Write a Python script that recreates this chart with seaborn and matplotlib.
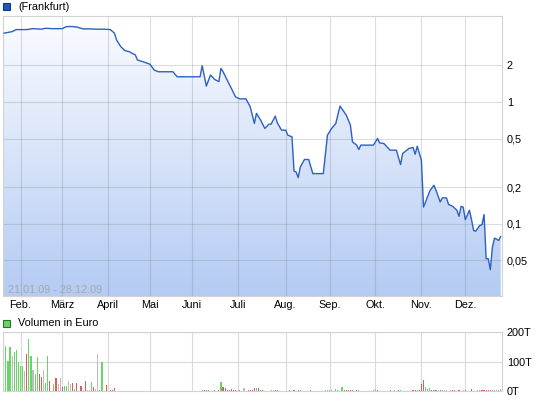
import numpy as np
import pandas as pd
import matplotlib
matplotlib.use("Agg")
import matplotlib.pyplot as plt
import seaborn as sns
from matplotlib.colors import LinearSegmentedColormap
from matplotlib.patches import Rectangle
from matplotlib.ticker import NullLocator

# ---------------- data ----------------
price_dates = [
    "2009-01-21", "2009-01-27", "2009-01-29", "2009-02-05", "2009-02-10", "2009-02-16",
    "2009-02-18", "2009-02-23", "2009-03-02", "2009-03-04", "2009-03-09", "2009-03-11",
    "2009-03-16", "2009-03-19", "2009-03-25", "2009-03-30", "2009-04-02", "2009-04-06",
    "2009-04-07", "2009-04-09", "2009-04-15", "2009-04-17", "2009-04-22", "2009-04-23",
    "2009-04-28", "2009-05-04", "2009-05-06", "2009-05-08", "2009-05-19", "2009-05-21",
    "2009-06-05", "2009-06-08", "2009-06-10", "2009-06-12", "2009-06-16", "2009-06-18",
    "2009-06-19", "2009-06-22", "2009-06-24", "2009-06-26", "2009-06-30", "2009-07-02",
    "2009-07-07", "2009-07-09", "2009-07-13", "2009-07-14", "2009-07-16", "2009-07-20",
    "2009-07-22", "2009-07-23", "2009-07-27", "2009-07-28", "2009-07-30", "2009-08-03",
    "2009-08-04", "2009-08-06", "2009-08-07", "2009-08-10", "2009-08-11", "2009-08-12",
    "2009-08-14", "2009-08-18", "2009-08-20", "2009-08-27", "2009-08-31", "2009-09-02",
    "2009-09-04", "2009-09-08", "2009-09-11", "2009-09-15", "2009-09-16", "2009-09-18",
    "2009-09-21", "2009-09-22", "2009-09-30", "2009-10-02", "2009-10-05", "2009-10-07",
    "2009-10-12", "2009-10-15", "2009-10-19", "2009-10-20", "2009-10-23", "2009-10-27",
    "2009-10-28", "2009-10-29", "2009-11-02", "2009-11-03", "2009-11-04", "2009-11-06",
    "2009-11-10", "2009-11-11", "2009-11-13", "2009-11-16", "2009-11-18", "2009-11-19",
    "2009-11-23", "2009-11-25", "2009-11-26", "2009-11-27", "2009-11-30", "2009-12-01",
    "2009-12-03", "2009-12-04", "2009-12-07", "2009-12-08", "2009-12-10", "2009-12-11",
    "2009-12-14", "2009-12-15", "2009-12-16", "2009-12-17", "2009-12-18", "2009-12-21",
    "2009-12-23", "2009-12-28",
]
price_values = [
    3.67, 3.78, 3.93, 3.93, 4.00, 3.96,
    4.03, 4.00, 4.00, 4.16, 4.16, 4.12,
    3.98, 3.98, 3.96, 3.96, 3.93, 3.67,
    3.23, 2.85, 2.64, 2.59, 2.43, 2.21,
    2.13, 2.04, 1.83, 1.77, 1.77, 1.61,
    1.61, 1.985, 1.35, 1.665, 1.53, 1.47,
    1.89, 1.77, 1.51, 1.29, 1.10, 1.06,
    1.06, 0.913, 0.666, 0.806, 0.709, 0.606,
    0.657, 0.657, 0.765, 0.674, 0.587, 0.587,
    0.534, 0.517, 0.270, 0.266, 0.239, 0.293,
    0.337, 0.337, 0.258, 0.258, 0.534, 0.606,
    0.666, 0.925, 0.780, 0.645, 0.470, 0.442,
    0.407, 0.442, 0.442, 0.501, 0.461, 0.456,
    0.402, 0.402, 0.306, 0.377, 0.415, 0.423,
    0.372, 0.433, 0.332, 0.137, 0.151, 0.186,
    0.207, 0.188, 0.151, 0.163, 0.163, 0.144,
    0.139, 0.129, 0.115, 0.139, 0.137, 0.108,
    0.129, 0.108, 0.088, 0.0869, 0.097, 0.098,
    0.119, 0.0516, 0.0516, 0.0419, 0.0643, 0.0762,
    0.073, 0.0787,
]

vol_dates = [
    "2009-01-21", "2009-01-22", "2009-01-23", "2009-01-26", "2009-01-27", "2009-01-28",
    "2009-01-29", "2009-01-30", "2009-02-02", "2009-02-03", "2009-02-04", "2009-02-05",
    "2009-02-06", "2009-02-09", "2009-02-10", "2009-02-11", "2009-02-12", "2009-02-13",
    "2009-02-16", "2009-02-17", "2009-02-18", "2009-02-19", "2009-02-20", "2009-02-24",
    "2009-02-25", "2009-02-26", "2009-02-27", "2009-03-02", "2009-03-03", "2009-03-04",
    "2009-03-05", "2009-03-06", "2009-03-09", "2009-03-10", "2009-03-11", "2009-03-13",
    "2009-03-16", "2009-03-17", "2009-03-18", "2009-03-19", "2009-03-20", "2009-03-23",
    "2009-03-24", "2009-03-25", "2009-03-26", "2009-03-27", "2009-03-31", "2009-04-02",
    "2009-04-03", "2009-04-06",
    "2009-06-08", "2009-06-09", "2009-06-10", "2009-06-11", "2009-06-16", "2009-06-18",
    "2009-06-19", "2009-06-22", "2009-06-23", "2009-06-24", "2009-06-25", "2009-06-26",
    "2009-06-29", "2009-06-30", "2009-07-02", "2009-07-06", "2009-07-08", "2009-07-09",
    "2009-07-10", "2009-07-13", "2009-07-14", "2009-07-15", "2009-07-16", "2009-07-17",
    "2009-07-23", "2009-07-24", "2009-07-27", "2009-07-28", "2009-08-05", "2009-08-07",
    "2009-08-11", "2009-08-12", "2009-08-19", "2009-08-28", "2009-08-31", "2009-09-01",
    "2009-09-02", "2009-09-04", "2009-09-07", "2009-09-09", "2009-09-10", "2009-09-11",
    "2009-09-14", "2009-09-15", "2009-09-16", "2009-09-18", "2009-09-21", "2009-09-30",
    "2009-10-01", "2009-10-02", "2009-10-12", "2009-10-14", "2009-10-16", "2009-10-19",
    "2009-10-27", "2009-10-28", "2009-10-29", "2009-10-30", "2009-11-02", "2009-11-03",
    "2009-11-04", "2009-11-05", "2009-11-06", "2009-11-09", "2009-11-10", "2009-11-11",
    "2009-11-12", "2009-11-13", "2009-11-16", "2009-11-17", "2009-11-18", "2009-11-20",
    "2009-11-23", "2009-11-24", "2009-11-26", "2009-11-30", "2009-12-01", "2009-12-04",
    "2009-12-09", "2009-12-10", "2009-12-11", "2009-12-14", "2009-12-15", "2009-12-16",
    "2009-12-17", "2009-12-18", "2009-12-21", "2009-12-22", "2009-12-23", "2009-12-28",
]
vol_values = [
    83, 151, 103, 148, 120, 131,
    140, 97, 86, 86, 69, 124,
    175, 120, 72, 59, 114, 56,
    49, 72, 28, 117, 35, 25,
    45, 25, 45, 15, 18, 18,
    35, 25, 28, 8, 28, 18,
    4, 35, 4, 4, 32, 15,
    8, 124, 4, 100, 22, 4,
    5, 11,
    5, 3, 3, 3, 3, 5,
    32, 15, 11, 5, 5, 8,
    5, 5, 5, 11, 3, 5,
    5, 11, 11, 11, 5, 5,
    5, 5, 5, 3, 3, 3,
    3, 3, 3, 3, 3, 3,
    3, 8, 5, 12, 5, 3,
    5, 5, 3, 5, 5, 5,
    8, 3, 3, 3, 5, 5,
    3, 3, 5, 3, 23, 36,
    15, 8, 11, 3, 5, 3,
    3, 3, 3, 5, 3, 5,
    5, 3, 3, 5, 3, 8,
    3, 3, 5, 5, 5, 5,
    5, 3, 3, 5, 5, 8,
]
# u = up (green), d = down (red), n = unchanged (grey)
vol_dir = [
    "n", "u", "u", "u", "n", "u",
    "u", "u", "u", "u", "n", "d",
    "u", "u", "n", "u", "u", "d",
    "d", "n", "u", "u", "d", "u",
    "d", "n", "n", "d", "u", "u",
    "n", "n", "d", "u", "d", "d",
    "n", "d", "n", "n", "u", "d",
    "n", "n", "d", "u", "d", "d",
    "d", "d",
    "u", "d", "d", "u", "d", "d",
    "u", "d", "d", "d", "d", "d",
    "d", "d", "d", "n", "d", "d",
    "d", "d", "u", "d", "d", "d",
    "u", "u", "d", "d", "d", "d",
    "d", "u", "d", "u", "u", "u",
    "u", "u", "u", "u", "d", "d",
    "d", "d", "d", "d", "u", "u",
    "u", "d", "d", "n", "d", "u",
    "d", "d", "u", "d", "d", "d",
    "u", "u", "u", "d", "u", "d",
    "n", "d", "u", "n", "n", "n",
    "d", "d", "d", "n", "d", "d",
    "u", "u", "d", "d", "d", "d",
    "d", "u", "u", "u", "u", "u",
]

month_labels = ["Feb.", "März", "April", "Mai", "Juni", "Juli", "Aug.", "Sep.", "Okt.", "Nov.", "Dez."]
price_ticks = [0.05, 0.1, 0.2, 0.5, 1, 2]
price_tick_labels = ["0,05", "0,1", "0,2", "0,5", "1", "2"]
vol_ticks = [0, 100, 200]
vol_tick_labels = ["0T", "100T", "200T"]
holidays = ["2009-04-10", "2009-04-13", "2009-05-01", "2009-12-24", "2009-12-25"]
legend_price = "(Frankfurt)"
legend_vol = "Volumen in Euro"
range_text = "21.01.09 - 28.12.09"

# ---------------- style ----------------
sns.set_theme(style="white")
plt.rcParams['font.family'] = ['Liberation Sans', 'DejaVu Sans']
FS = 7.8

# trading-day axis (chart skips weekends/holidays)
days = pd.bdate_range("2009-01-21", "2009-12-28")
days = days[~days.isin(pd.to_datetime(holidays))]
pos = pd.Series(np.arange(len(days)), index=days)
px = pos[pd.to_datetime(price_dates)].values
vx = pos[pd.to_datetime(vol_dates)].values
firsts = days.to_series().groupby([days.year, days.month]).first()
month_pos = [pos[d] for d in firsts.values[1:]]

W, H = 545, 401
fig = plt.figure(figsize=(W / 100, H / 100), dpi=100)
fig.patch.set_facecolor("white")
L, R = 2.8, 501.6
ax = fig.add_axes([L / W, 1 - 296 / H, (R - L) / W, 280 / H])
axv = fig.add_axes([L / W, 1 - 391 / H, (R - L) / W, 59 / H])

xlim = (-0.48, 238.4)
spine_col = "#d2d2d2"

# ---- price panel ----
df = pd.DataFrame({"day": px, "price": price_values})
sns.lineplot(data=df, x="day", y="price", ax=ax, color="#2c60c2", linewidth=1.0, zorder=3)
ax.set_yscale("log")

poly = ax.fill_between(px, price_values, 1e-4, facecolor="none", edgecolor="none")
cmap = LinearSegmentedColormap.from_list("g", ["#fbfcff", "#b4cbf3"])
grad = np.linspace(0, 1, 256).reshape(-1, 1)
im = ax.imshow(grad, cmap=cmap, extent=[0, 1, 0, 1], transform=ax.transAxes,
               aspect="auto", zorder=0.8, interpolation="bilinear")
im.set_clip_path(poly.get_paths()[0], transform=ax.transData)

ax.set_xlim(*xlim)
ax.set_ylim(0.0255, 5.08)
ax.set_autoscale_on(False)
ax.set_xticks(month_pos)
ax.set_xticklabels(month_labels)
ax.set_yticks(price_ticks)
ax.set_yticklabels(price_tick_labels)
ax.yaxis.set_minor_locator(NullLocator())
ax.yaxis.tick_right()
ax.set_xlabel("")
ax.set_ylabel("")
ax.tick_params(axis="y", length=0, labelsize=FS, pad=3.8, labelcolor="black")
ax.tick_params(axis="x", length=0, labelsize=FS, pad=3.0, labelcolor="black")
ax.set_axisbelow("line")
ax.grid(True, color="#7a8290", alpha=0.28, linewidth=0.8)
for s in ax.spines.values():
    s.set_color(spine_col)
    s.set_linewidth(0.8)

# ---- volume panel ----
col_map = {"u": "#66d766", "d": "#e05c5c", "n": "#bdbdbd"}
axv.bar(vx, vol_values, width=0.55, color=[col_map[c] for c in vol_dir], linewidth=0, zorder=2)
axv.set_xlim(*xlim)
axv.set_ylim(0, 200)
axv.set_xticks(month_pos)
axv.set_xticklabels([])
axv.set_yticks(vol_ticks)
axv.set_yticklabels(vol_tick_labels)
axv.yaxis.tick_right()
axv.tick_params(axis="y", length=0, labelsize=FS, pad=3.8, labelcolor="black")
axv.tick_params(axis="x", length=0)
axv.set_axisbelow(True)
axv.grid(True, color="#dadada", linewidth=0.8)
for s in axv.spines.values():
    s.set_color(spine_col)
    s.set_linewidth(0.8)

# ---- legends / texts ----
fig.add_artist(Rectangle((3.3 / W, 1 - 9.8 / H), 6.6 / W, 6.6 / H, transform=fig.transFigure,
                         facecolor="#2158b8", edgecolor="#163a78", linewidth=0.8))
fig.text(18 / W, 1 - 6.8 / H, legend_price, fontsize=FS, va="center", ha="left", color="black")
fig.add_artist(Rectangle((3.3 / W, 1 - 326.6 / H), 6.6 / W, 6.6 / H, transform=fig.transFigure,
                         facecolor="#66d766", edgecolor="#2e6e2e", linewidth=0.8))
fig.text(18 / W, 1 - 323.3 / H, legend_vol, fontsize=FS, va="center", ha="left", color="black")
fig.text(7.6 / W, 1 - 290 / H, range_text, fontsize=FS, va="center", ha="left", color="#a9a9a9")

fig.savefig("out.png", dpi=100)
